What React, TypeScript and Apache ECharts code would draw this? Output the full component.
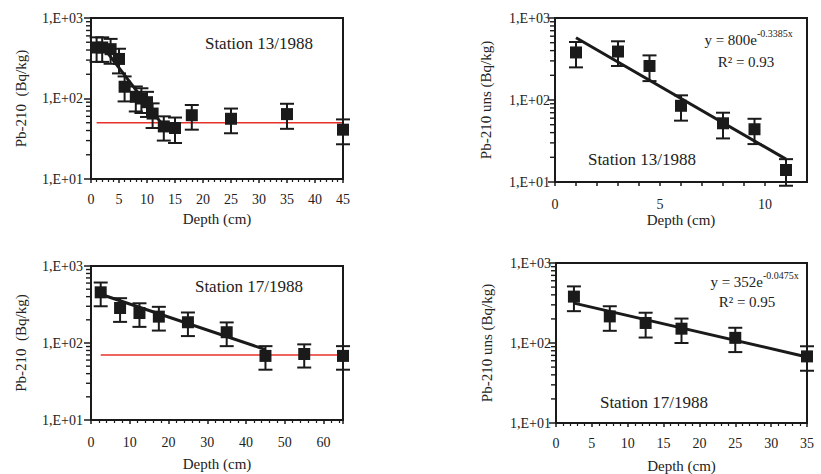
import React, { useEffect, useRef } from "react";
import * as echarts from "echarts";

const FONT = "Liberation Serif";

// Panel A: Station 13/1988, total Pb-210
const depthA = [1, 2, 3.5, 5, 6, 8, 9, 10, 11, 13, 15, 18, 25, 35, 45];
const pbA = [430, 430, 410, 310, 140, 105, 100, 90, 65, 45, 43, 62, 56, 64, 41];
const errA = [145, 145, 140, 105, 48, 36, 34, 31, 22, 15, 15, 21, 19, 22, 14];
const fitAx = [2, 13];
const fitAy = [450, 45];
const bgAx = [1, 45];
const bgAy = [50, 50];

// Panel B: Station 13/1988, unsupported Pb-210
const depthB = [1, 3, 4.5, 6, 8, 9.5, 11];
const pbB = [380, 390, 260, 85, 52, 44, 14];
const errB = [130, 130, 90, 29, 18, 15, 5];
const fitBx = [1, 11];
const fitBy = [575, 19];

// Panel C: Station 17/1988, total Pb-210
const depthC = [2.5, 7.5, 12.5, 17.5, 25, 35, 45, 55, 65];
const pbC = [455, 285, 245, 220, 186, 138, 68, 72, 68];
const errC = [155, 97, 83, 75, 63, 47, 23, 24, 23];
const fitCx = [2.5, 45];
const fitCy = [430, 82];
const bgCx = [2.5, 65];
const bgCy = [70, 70];

// Panel D: Station 17/1988, unsupported Pb-210
const depthD = [2.5, 7.5, 12.5, 17.5, 25, 35];
const pbD = [380, 215, 178, 151, 116, 68];
const errD = [130, 73, 61, 51, 39, 23];
const fitDx = [2.5, 35];
const fitDy = [315, 67];

const yTickValues = [10, 100, 1000];
const yTickLabels = ["1,E+01", "1,E+02", "1,E+03"];
const yMinorValues = [20, 30, 40, 50, 60, 70, 80, 90, 200, 300, 400, 500, 600, 700, 800, 900];

const stationLabels = ["Station 13/1988", "Station 13/1988", "Station 17/1988", "Station 17/1988"];
const yNames = ["Pb-210  (Bq/kg)", "Pb-210 uns (Bq/kg)", "Pb-210  (Bq/kg)", "Pb-210 uns (Bq/kg)"];
const xName = "Depth (cm)";
const eqB = ["y = 800e", "-0.3385x", "R\u00b2 = 0.93"];
const eqD = ["y = 352e", "-0.0475x", "R\u00b2 = 0.95"];

const INK = "#1a1a1a";
const TXT = "#222";

const grids = [
  { left: 91, top: 18, width: 252, height: 161 },
  { left: 555, top: 18, width: 252, height: 164 },
  { left: 91, top: 266, width: 252, height: 154 },
  { left: 556, top: 263, width: 251, height: 162 },
];

const xCfg = [
  { max: 45, interval: 5, minor: true, labelEvery: 5, margin: 13, nameGap: 32 },
  { max: 12, interval: 1, minor: false, labelEvery: 5, margin: 15, nameGap: 30 },
  { max: 65, interval: 10, minor: true, labelEvery: 10, margin: 15, nameGap: 36 },
  { max: 35, interval: 5, minor: true, labelEvery: 5, margin: 13, nameGap: 35 },
];
const yLabelMargin = [8, 5, 8, 5];
const yNameGap = [63, 62, 63, 62];

function pairs(xs: number[], ys: number[]) {
  return xs.map((x, i) => [x, ys[i]]);
}

function errorSeries(i: number, xs: number[], ys: number[], es: number[]) {
  return {
    type: "custom",
    xAxisIndex: i,
    yAxisIndex: i,
    clip: false,
    z: 3,
    data: xs.map((x, k) => [x, ys[k], es[k]]),
    renderItem: (_p: any, api: any) => {
      const x = api.value(0);
      const y = api.value(1);
      const e = api.value(2);
      const hi = api.coord([x, y + e]);
      const lo = api.coord([x, y - e]);
      const cw = 7;
      const style = { stroke: INK, lineWidth: 2 };
      return {
        type: "group",
        children: [
          { type: "line", shape: { x1: hi[0], y1: hi[1], x2: lo[0], y2: lo[1] }, style },
          { type: "line", shape: { x1: hi[0] - cw, y1: hi[1], x2: hi[0] + cw, y2: hi[1] }, style },
          { type: "line", shape: { x1: lo[0] - cw, y1: lo[1], x2: lo[0] + cw, y2: lo[1] }, style },
        ],
      };
    },
  };
}

function minorTickSeries(i: number) {
  return {
    type: "custom",
    xAxisIndex: i,
    yAxisIndex: i,
    clip: false,
    z: 5,
    data: yMinorValues.map((v) => [0, v, 0]),
    renderItem: (_p: any, api: any) => {
      const p = api.coord([api.value(0), api.value(1)]);
      return {
        type: "group",
        children: [
          {
            type: "line",
            shape: { x1: p[0] - 5, y1: p[1], x2: p[0], y2: p[1] },
            style: { stroke: INK, lineWidth: 1.4 },
          },
        ],
      };
    },
  };
}

function scatterSeries(i: number, xs: number[], ys: number[]) {
  return {
    type: "scatter",
    xAxisIndex: i,
    yAxisIndex: i,
    symbol: "rect",
    symbolSize: 12,
    clip: false,
    z: 4,
    itemStyle: { color: INK, opacity: 1 },
    data: pairs(xs, ys),
  };
}

function lineSeries(i: number, xs: number[], ys: number[], color: string, width: number, z: number) {
  return {
    type: "line",
    xAxisIndex: i,
    yAxisIndex: i,
    symbol: "none",
    z,
    lineStyle: { color, width },
    data: pairs(xs, ys),
  };
}

export default function App() {
  const ref = useRef<HTMLDivElement>(null);

  useEffect(() => {
    document.body.style.margin = "0";
    if (!ref.current) return;
    const chart = echarts.init(ref.current, undefined, { renderer: "svg" });

    const xAxis = xCfg.map((c, i) => ({
      type: "value",
      gridIndex: i,
      min: 0,
      max: c.max,
      interval: c.interval,
      name: xName,
      nameLocation: "middle",
      nameGap: c.nameGap,
      nameTextStyle: { fontFamily: FONT, fontSize: 15, color: TXT },
      axisLine: { show: true, onZero: false, lineStyle: { color: INK, width: 2 } },
      axisTick: { show: true, length: 4, lineStyle: { color: INK, width: 1.5 } },
      minorTick: { show: c.minor, splitNumber: 5, length: 3, lineStyle: { color: INK, width: 1.2 } },
      splitLine: { show: false },
      minorSplitLine: { show: false },
      axisLabel: {
        fontFamily: FONT,
        fontSize: 14,
        color: TXT,
        margin: c.margin,
        showMaxLabel: c.max % c.labelEvery === 0,
        formatter: (v: number) => (Math.abs(v % c.labelEvery) < 1e-9 ? String(v) : ""),
      },
    }));

    const yAxis = grids.map((_g, i) => ({
      type: "log",
      logBase: 10,
      gridIndex: i,
      min: 10,
      max: 1000,
      name: yNames[i],
      nameLocation: "middle",
      nameGap: yNameGap[i],
      nameTextStyle: { fontFamily: FONT, fontSize: 15, color: TXT },
      axisLine: { show: true, lineStyle: { color: INK, width: 2 } },
      axisTick: { show: true, length: 7, lineStyle: { color: INK, width: 1.5 } },
      splitLine: { show: false },
      minorTick: { show: false },
      axisLabel: {
        fontFamily: FONT,
        fontSize: 14,
        color: TXT,
        margin: yLabelMargin[i],
        formatter: (v: number) => {
          const k = yTickValues.findIndex((t) => Math.abs(t - v) < 1e-6);
          return k >= 0 ? yTickLabels[k] : "";
        },
      },
    }));

    const series: any[] = [
      lineSeries(0, bgAx, bgAy, "#e8302a", 1.5, 2),
      errorSeries(0, depthA, pbA, errA),
      lineSeries(0, fitAx, fitAy, INK, 3, 3),
      scatterSeries(0, depthA, pbA),

      errorSeries(1, depthB, pbB, errB),
      lineSeries(1, fitBx, fitBy, INK, 3, 3),
      scatterSeries(1, depthB, pbB),

      lineSeries(2, bgCx, bgCy, "#e8302a", 1.5, 2),
      errorSeries(2, depthC, pbC, errC),
      lineSeries(2, fitCx, fitCy, INK, 3, 3),
      scatterSeries(2, depthC, pbC),

      errorSeries(3, depthD, pbD, errD),
      lineSeries(3, fitDx, fitDy, INK, 3, 3),
      scatterSeries(3, depthD, pbD),

      minorTickSeries(0),
      minorTickSeries(1),
      minorTickSeries(2),
      minorTickSeries(3),
    ];

    const stationPos = [
      [259, 43],
      [642, 159],
      [249, 286],
      [654, 402],
    ];

    const txt = (text: string, x: number, y: number, size: number, align: string) => ({
      type: "text",
      x,
      y,
      z: 10,
      style: {
        text,
        fontFamily: FONT,
        fontSize: size,
        fill: TXT,
        textAlign: align,
        textVerticalAlign: "middle",
        verticalAlign: "middle",
      },
    });

    const graphic: any[] = [
      ...stationLabels.map((s, i) => txt(s, stationPos[i][0], stationPos[i][1], 17, "center")),
      txt(eqB[0], 757, 40, 15, "right"),
      txt(eqB[1], 757, 33, 10, "left"),
      txt(eqB[2], 746, 62, 15, "center"),
      txt(eqD[0], 763, 282, 15, "right"),
      txt(eqD[1], 763, 275, 10, "left"),
      txt(eqD[2], 747, 302, 15, "center"),
    ];

    chart.setOption({
      animation: false,
      backgroundColor: "#ffffff",
      grid: grids.map((g) => ({
        ...g,
        show: true,
        borderColor: INK,
        borderWidth: 2,
        backgroundColor: "transparent",
        containLabel: false,
      })),
      xAxis,
      yAxis,
      series,
      graphic,
    });

    return () => chart.dispose();
  }, []);

  return <div ref={ref} style={{ width: 821, height: 474 }} />;
}
